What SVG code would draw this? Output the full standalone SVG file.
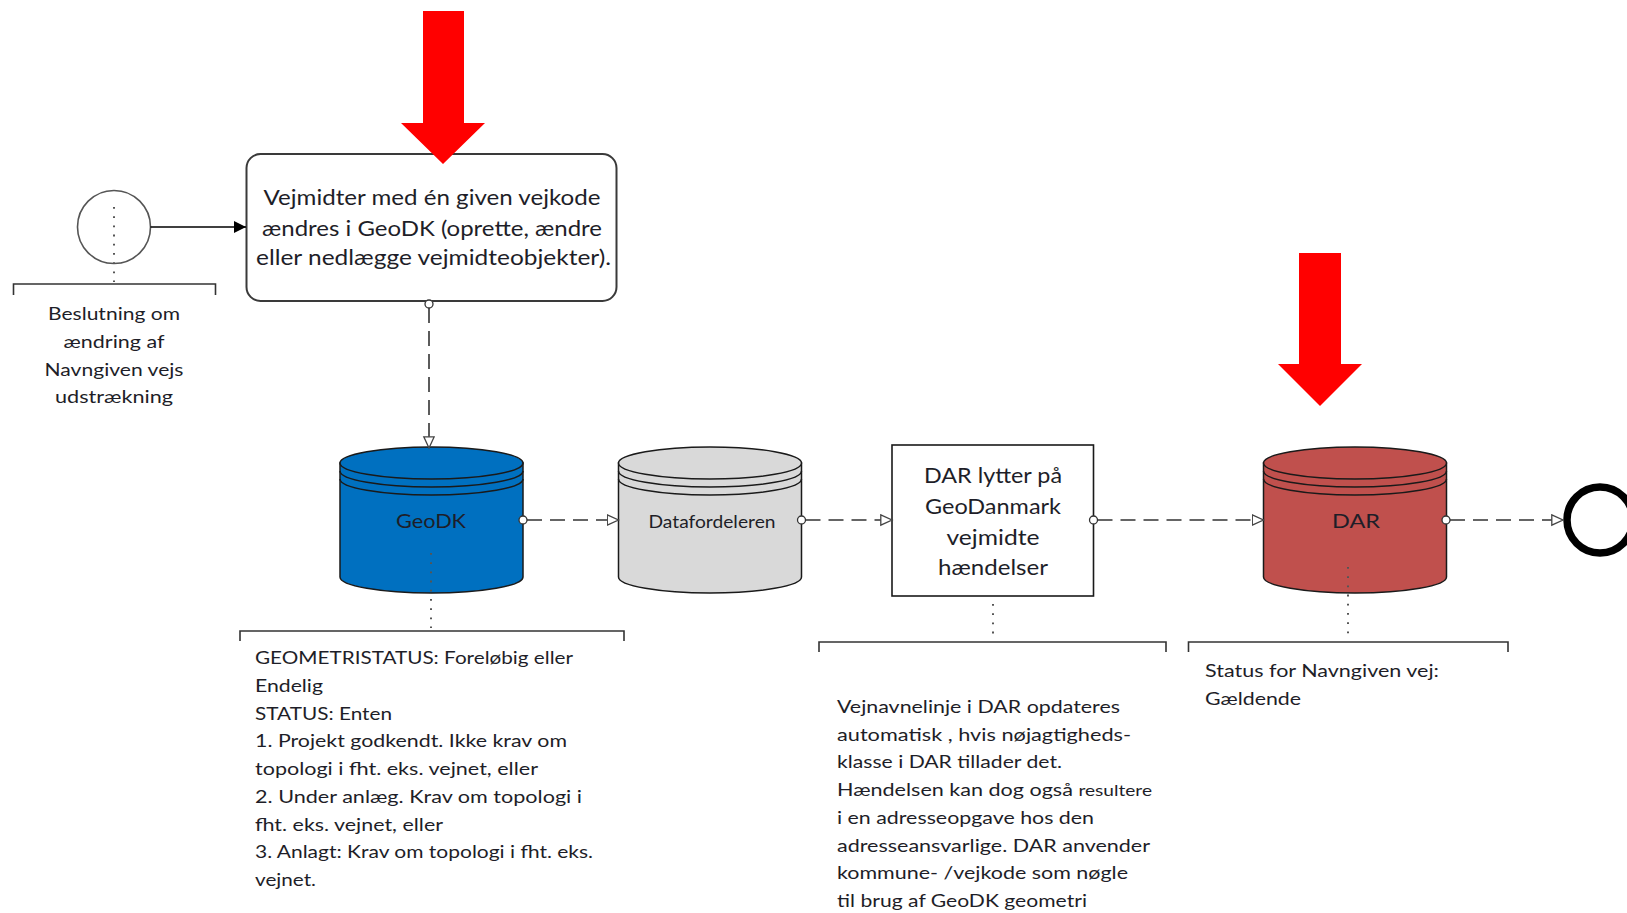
<svg xmlns="http://www.w3.org/2000/svg" width="1627" height="913" viewBox="0 0 1627 913">
<style>
text{font-family:Lato,"Open Sans","Liberation Sans",sans-serif;fill:#1e1e28}
.c{text-anchor:middle}
.t21{font-size:21px}
.t18{font-size:18px}
.t17{font-size:17.5px}
.dash{fill:none;stroke:#333;stroke-width:1.6;stroke-dasharray:15 8}
.dot{fill:none;stroke:#555;stroke-width:2;stroke-dasharray:1.8 7.4}
.brk{fill:none;stroke:#333;stroke-width:1.6}
.port{fill:#fff;stroke:#333;stroke-width:1.3}
.cyl{stroke:#1a1a1a;stroke-width:1.5}
.rim{fill:none;stroke:#1a1a1a;stroke-width:1.5}
.red{fill:#ff0000}
</style>
<defs>
<marker id="open" markerUnits="userSpaceOnUse" markerWidth="14" markerHeight="14" refX="12" refY="6" orient="auto">
<path d="M0.8,0.8 L12,6 L0.8,11.2 Z" fill="#fff" stroke="#444" stroke-width="1.3"/>
</marker>
<marker id="solid" markerUnits="userSpaceOnUse" markerWidth="14" markerHeight="14" refX="12" refY="6" orient="auto">
<path d="M0,0 L12,6 L0,12 Z" fill="#000"/>
</marker>
</defs>

<g id="start">
<circle cx="114" cy="227" r="36.5" fill="#fff" stroke="#555" stroke-width="1.6"/>
<line class="dot" x1="114" y1="207" x2="114" y2="282"/>
<path class="brk" d="M13.5,295 V284 H215.5 V295"/>
<text class="c t18" x="114" y="320" textLength="132" lengthAdjust="spacingAndGlyphs">Beslutning om</text>
<text class="c t18" x="114" y="348" textLength="101" lengthAdjust="spacingAndGlyphs">ændring af</text>
<text class="c t18" x="114" y="376" textLength="139" lengthAdjust="spacingAndGlyphs">Navngiven vejs</text>
<text class="c t18" x="114" y="403" textLength="118" lengthAdjust="spacingAndGlyphs">udstrækning</text>
</g>

<g id="task">
<rect x="246.5" y="154" width="370" height="147" rx="14" fill="#fff" stroke="#3a3a3a" stroke-width="2"/>
<text class="c t21" x="432" y="205" textLength="337" lengthAdjust="spacingAndGlyphs">Vejmidter med én given vejkode</text>
<text class="c t21" x="432" y="236" textLength="340" lengthAdjust="spacingAndGlyphs">ændres i GeoDK (oprette, ændre</text>
<text class="c t21" x="433.5" y="265" textLength="355" lengthAdjust="spacingAndGlyphs">eller nedlægge vejmidteobjekter).</text>
</g>

<g id="arrow1">
<polygon class="red" points="423,11 464,11 464,123 485,123 443,164 401,123 423,123"/>
</g>
<g id="arrow2">
<polygon class="red" points="1299,253 1341,253 1341,364 1362,364 1320,406 1278,364 1299,364"/>
</g>

<g id="geodk">
<path class="cyl" fill="#0070c0" d="M340,463 V577 A91.5,16 0 0 0 523,577 V463 Z"/>
<ellipse class="cyl" cx="431.5" cy="463" rx="91.5" ry="16" fill="#0070c0"/>
<path class="rim" d="M340,471 A91.5,16 0 0 0 523,471 M340,479 A91.5,16 0 0 0 523,479"/>
<text class="c" x="431" y="528" font-size="20" textLength="70" lengthAdjust="spacingAndGlyphs">GeoDK</text>
<line class="dot" x1="431" y1="553" x2="431" y2="628" stroke="#333"/>
<path class="brk" d="M240,641 V631 H624 V641"/>
<text class="t17" x="255" y="664" textLength="318" lengthAdjust="spacingAndGlyphs">GEOMETRISTATUS: Foreløbig eller</text>
<text class="t17" x="255" y="691.8" textLength="68" lengthAdjust="spacingAndGlyphs">Endelig</text>
<text class="t17" x="255" y="719.5" textLength="137" lengthAdjust="spacingAndGlyphs">STATUS: Enten</text>
<text class="t17" x="255" y="747.3" textLength="312" lengthAdjust="spacingAndGlyphs">1. Projekt godkendt. Ikke krav om</text>
<text class="t17" x="255" y="775" textLength="283" lengthAdjust="spacingAndGlyphs">topologi i fht. eks. vejnet, eller</text>
<text class="t17" x="255" y="802.8" textLength="327" lengthAdjust="spacingAndGlyphs">2. Under anlæg. Krav om topologi i</text>
<text class="t17" x="255" y="830.5" textLength="188" lengthAdjust="spacingAndGlyphs">fht. eks. vejnet, eller</text>
<text class="t17" x="255" y="858.3" textLength="338" lengthAdjust="spacingAndGlyphs">3. Anlagt: Krav om topologi i fht. eks.</text>
<text class="t17" x="255" y="886" textLength="61" lengthAdjust="spacingAndGlyphs">vejnet.</text>
</g>

<g id="datafordeleren">
<path class="cyl" fill="#d9d9d9" d="M618.5,463 V577 A91.5,16 0 0 0 801.5,577 V463 Z"/>
<ellipse class="cyl" cx="710" cy="463" rx="91.5" ry="16" fill="#d9d9d9"/>
<path class="rim" d="M618.5,471 A91.5,16 0 0 0 801.5,471 M618.5,479 A91.5,16 0 0 0 801.5,479"/>
<text class="c" x="712" y="528" font-size="18" textLength="127" lengthAdjust="spacingAndGlyphs">Datafordeleren</text>
</g>

<g id="dar-lytter">
<rect x="892" y="445" width="201.5" height="151" fill="#fff" stroke="#1a1a1a" stroke-width="1.6"/>
<text class="c t21" x="993" y="483" textLength="138" lengthAdjust="spacingAndGlyphs">DAR lytter på</text>
<text class="c t21" x="993" y="514" textLength="136" lengthAdjust="spacingAndGlyphs">GeoDanmark</text>
<text class="c t21" x="993" y="544.5" textLength="93" lengthAdjust="spacingAndGlyphs">vejmidte</text>
<text class="c t21" x="993" y="575" textLength="110" lengthAdjust="spacingAndGlyphs">hændelser</text>
<line class="dot" x1="993" y1="604" x2="993" y2="638"/>
<path class="brk" d="M819,652 V642 H1166 V652"/>
<text class="t17" x="837" y="713" textLength="283" lengthAdjust="spacingAndGlyphs">Vejnavnelinje i DAR opdateres</text>
<text class="t17" x="837" y="740.7" textLength="294" lengthAdjust="spacingAndGlyphs">automatisk , hvis nøjagtigheds-</text>
<text class="t17" x="837" y="768.4" textLength="225" lengthAdjust="spacingAndGlyphs">klasse i DAR tillader det.</text>
<text class="t17" x="837" y="796.1" textLength="315" lengthAdjust="spacingAndGlyphs">Hændelsen kan dog også <tspan font-size="15.5">resultere</tspan></text>
<text class="t17" x="837" y="823.8" textLength="257" lengthAdjust="spacingAndGlyphs">i en adresseopgave hos den</text>
<text class="t17" x="837" y="851.5" textLength="313" lengthAdjust="spacingAndGlyphs">adresseansvarlige. DAR anvender</text>
<text class="t17" x="837" y="879.2" textLength="291" lengthAdjust="spacingAndGlyphs">kommune- /vejkode som nøgle</text>
<text class="t17" x="837" y="906.9" textLength="250" lengthAdjust="spacingAndGlyphs">til brug af GeoDK geometri</text>
</g>

<g id="dar">
<path class="cyl" fill="#c0504d" d="M1263.5,463 V577 A91.5,16 0 0 0 1446.5,577 V463 Z"/>
<ellipse class="cyl" cx="1355" cy="463" rx="91.5" ry="16" fill="#c0504d"/>
<path class="rim" d="M1263.5,471 A91.5,16 0 0 0 1446.5,471 M1263.5,479 A91.5,16 0 0 0 1446.5,479"/>
<text class="c" x="1356" y="528" font-size="20" textLength="48" lengthAdjust="spacingAndGlyphs">DAR</text>
<line class="dot" x1="1348" y1="567" x2="1348" y2="638" stroke="#333"/>
<path class="brk" d="M1188.5,652 V642 H1508 V652"/>
<text class="t17" x="1205" y="677" textLength="234" lengthAdjust="spacingAndGlyphs">Status for Navngiven vej:</text>
<text class="t17" x="1205" y="705" textLength="96" lengthAdjust="spacingAndGlyphs">Gældende</text>
</g>

<g id="end">
<circle cx="1600" cy="520" r="33" fill="#fff" stroke="#000" stroke-width="7.5"/>
</g>

<g id="connectors">
<line x1="150.5" y1="227" x2="246" y2="227" stroke="#000" stroke-width="1.6" marker-end="url(#solid)"/>
<line class="dash" x1="429" y1="308" x2="429" y2="448" marker-end="url(#open)"/>
<circle class="port" cx="429" cy="304" r="4"/>
<line class="dash" x1="527" y1="520" x2="618.5" y2="520" marker-end="url(#open)"/>
<circle class="port" cx="523" cy="520" r="4"/>
<line class="dash" x1="805.5" y1="520" x2="892" y2="520" marker-end="url(#open)"/>
<circle class="port" cx="801.5" cy="520" r="4"/>
<line class="dash" x1="1097.5" y1="520" x2="1263.5" y2="520" marker-end="url(#open)"/>
<circle class="port" cx="1093.5" cy="520" r="4"/>
<line class="dash" x1="1450" y1="520" x2="1563" y2="520" marker-end="url(#open)"/>
<circle class="port" cx="1446" cy="520" r="4"/>
</g>
</svg>
